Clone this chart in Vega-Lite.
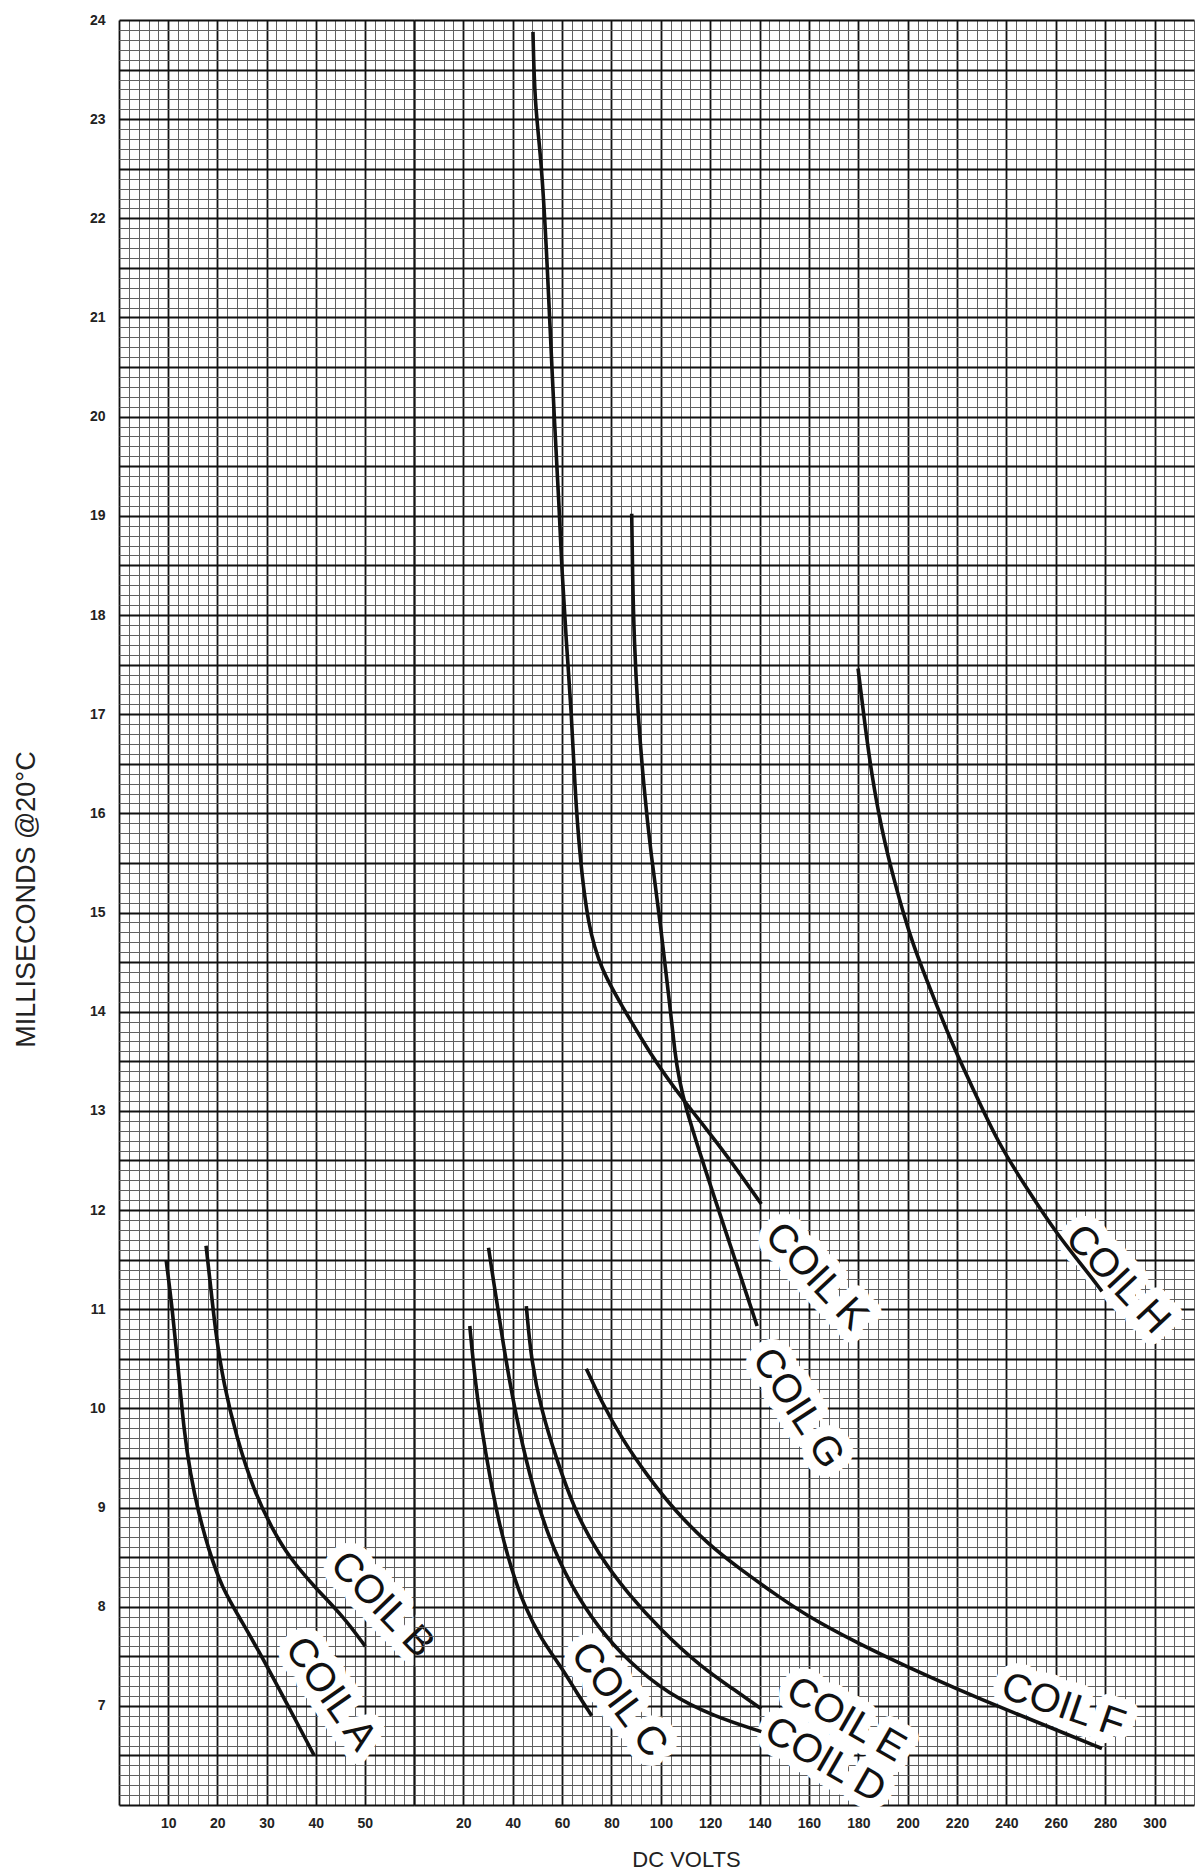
{
  "$schema": "https://vega.github.io/schema/vega-lite/v6.json",
  "background": "white",
  "padding": {"left": 12, "top": 13, "right": 3, "bottom": 0},
  "config": {
    "view": {"stroke": null},
    "font": "Liberation Sans",
    "axis": {
      "ticks": false,
      "domain": false,
      "labelOverlap": false,
      "labelFlush": false,
      "labelFont": "Liberation Sans",
      "labelFontSize": 14,
      "labelFontWeight": "bold",
      "labelColor": "#222",
      "titleFont": "Liberation Sans",
      "titleFontWeight": "normal",
      "titleColor": "#222",
      "gridOpacity": 1
    }
  },
  "datasets": {
    "curves": [
      {"coil": "COIL A", "panel": "left", "volts": 9.6, "ms": 11.49},
      {"coil": "COIL A", "panel": "left", "volts": 10.8, "ms": 11.02},
      {"coil": "COIL A", "panel": "left", "volts": 12.1, "ms": 10.38},
      {"coil": "COIL A", "panel": "left", "volts": 13.2, "ms": 9.78},
      {"coil": "COIL A", "panel": "left", "volts": 14.5, "ms": 9.34},
      {"coil": "COIL A", "panel": "left", "volts": 16.2, "ms": 8.94},
      {"coil": "COIL A", "panel": "left", "volts": 18.2, "ms": 8.58},
      {"coil": "COIL A", "panel": "left", "volts": 20.9, "ms": 8.19},
      {"coil": "COIL A", "panel": "left", "volts": 25.0, "ms": 7.85},
      {"coil": "COIL A", "panel": "left", "volts": 29.7, "ms": 7.44},
      {"coil": "COIL A", "panel": "left", "volts": 34.6, "ms": 6.98},
      {"coil": "COIL A", "panel": "left", "volts": 39.7, "ms": 6.5},
      {"coil": "COIL B", "panel": "left", "volts": 17.7, "ms": 11.64},
      {"coil": "COIL B", "panel": "left", "volts": 18.6, "ms": 11.25},
      {"coil": "COIL B", "panel": "left", "volts": 19.6, "ms": 10.78},
      {"coil": "COIL B", "panel": "left", "volts": 21.3, "ms": 10.24},
      {"coil": "COIL B", "panel": "left", "volts": 23.9, "ms": 9.71},
      {"coil": "COIL B", "panel": "left", "volts": 27.4, "ms": 9.17},
      {"coil": "COIL B", "panel": "left", "volts": 31.3, "ms": 8.77},
      {"coil": "COIL B", "panel": "left", "volts": 34.6, "ms": 8.5},
      {"coil": "COIL B", "panel": "left", "volts": 39.9, "ms": 8.19},
      {"coil": "COIL B", "panel": "left", "volts": 45.3, "ms": 7.92},
      {"coil": "COIL B", "panel": "left", "volts": 50.1, "ms": 7.6},
      {"coil": "COIL C", "panel": "right", "volts": 22.6, "ms": 10.83},
      {"coil": "COIL C", "panel": "right", "volts": 24.6, "ms": 10.31},
      {"coil": "COIL C", "panel": "right", "volts": 27.3, "ms": 9.81},
      {"coil": "COIL C", "panel": "right", "volts": 30.7, "ms": 9.31},
      {"coil": "COIL C", "panel": "right", "volts": 34.7, "ms": 8.81},
      {"coil": "COIL C", "panel": "right", "volts": 39.5, "ms": 8.37},
      {"coil": "COIL C", "panel": "right", "volts": 44.8, "ms": 8.0},
      {"coil": "COIL C", "panel": "right", "volts": 51.6, "ms": 7.67},
      {"coil": "COIL C", "panel": "right", "volts": 59.7, "ms": 7.39},
      {"coil": "COIL C", "panel": "right", "volts": 66.0, "ms": 7.13},
      {"coil": "COIL C", "panel": "right", "volts": 72.0, "ms": 6.9},
      {"coil": "COIL D", "panel": "right", "volts": 30.2, "ms": 11.62},
      {"coil": "COIL D", "panel": "right", "volts": 32.0, "ms": 11.32},
      {"coil": "COIL D", "panel": "right", "volts": 36.1, "ms": 10.65},
      {"coil": "COIL D", "panel": "right", "volts": 40.8, "ms": 9.98},
      {"coil": "COIL D", "panel": "right", "volts": 46.9, "ms": 9.31},
      {"coil": "COIL D", "panel": "right", "volts": 54.3, "ms": 8.7},
      {"coil": "COIL D", "panel": "right", "volts": 63.8, "ms": 8.2},
      {"coil": "COIL D", "panel": "right", "volts": 74.6, "ms": 7.79},
      {"coil": "COIL D", "panel": "right", "volts": 86.7, "ms": 7.45},
      {"coil": "COIL D", "panel": "right", "volts": 102.9, "ms": 7.12},
      {"coil": "COIL D", "panel": "right", "volts": 121.8, "ms": 6.89},
      {"coil": "COIL D", "panel": "right", "volts": 140.7, "ms": 6.74},
      {"coil": "COIL E", "panel": "right", "volts": 45.5, "ms": 11.03},
      {"coil": "COIL E", "panel": "right", "volts": 47.5, "ms": 10.48},
      {"coil": "COIL E", "panel": "right", "volts": 51.6, "ms": 9.98},
      {"coil": "COIL E", "panel": "right", "volts": 57.7, "ms": 9.49},
      {"coil": "COIL E", "panel": "right", "volts": 65.1, "ms": 8.97},
      {"coil": "COIL E", "panel": "right", "volts": 74.6, "ms": 8.53},
      {"coil": "COIL E", "panel": "right", "volts": 86.7, "ms": 8.13},
      {"coil": "COIL E", "panel": "right", "volts": 100.2, "ms": 7.76},
      {"coil": "COIL E", "panel": "right", "volts": 116.4, "ms": 7.39},
      {"coil": "COIL E", "panel": "right", "volts": 129.9, "ms": 7.16},
      {"coil": "COIL E", "panel": "right", "volts": 140.7, "ms": 6.97},
      {"coil": "COIL F", "panel": "right", "volts": 69.8, "ms": 10.4},
      {"coil": "COIL F", "panel": "right", "volts": 75.9, "ms": 10.07},
      {"coil": "COIL F", "panel": "right", "volts": 84.0, "ms": 9.7},
      {"coil": "COIL F", "panel": "right", "volts": 94.8, "ms": 9.31},
      {"coil": "COIL F", "panel": "right", "volts": 105.6, "ms": 8.97},
      {"coil": "COIL F", "panel": "right", "volts": 119.1, "ms": 8.63},
      {"coil": "COIL F", "panel": "right", "volts": 132.6, "ms": 8.37},
      {"coil": "COIL F", "panel": "right", "volts": 146.1, "ms": 8.13},
      {"coil": "COIL F", "panel": "right", "volts": 159.6, "ms": 7.9},
      {"coil": "COIL F", "panel": "right", "volts": 179.9, "ms": 7.63},
      {"coil": "COIL F", "panel": "right", "volts": 200.1, "ms": 7.39},
      {"coil": "COIL F", "panel": "right", "volts": 220.0, "ms": 7.17},
      {"coil": "COIL F", "panel": "right", "volts": 240.0, "ms": 6.96},
      {"coil": "COIL F", "panel": "right", "volts": 260.0, "ms": 6.76},
      {"coil": "COIL F", "panel": "right", "volts": 278.7, "ms": 6.57},
      {"coil": "COIL K", "panel": "right", "volts": 48.2, "ms": 23.88},
      {"coil": "COIL K", "panel": "right", "volts": 48.9, "ms": 23.16},
      {"coil": "COIL K", "panel": "right", "volts": 51.6, "ms": 22.59},
      {"coil": "COIL K", "panel": "right", "volts": 53.6, "ms": 21.72},
      {"coil": "COIL K", "panel": "right", "volts": 55.0, "ms": 20.97},
      {"coil": "COIL K", "panel": "right", "volts": 57.0, "ms": 19.89},
      {"coil": "COIL K", "panel": "right", "volts": 58.8, "ms": 19.1},
      {"coil": "COIL K", "panel": "right", "volts": 59.9, "ms": 18.45},
      {"coil": "COIL K", "panel": "right", "volts": 61.7, "ms": 17.73},
      {"coil": "COIL K", "panel": "right", "volts": 63.8, "ms": 17.01},
      {"coil": "COIL K", "panel": "right", "volts": 65.1, "ms": 16.29},
      {"coil": "COIL K", "panel": "right", "volts": 67.1, "ms": 15.58},
      {"coil": "COIL K", "panel": "right", "volts": 70.5, "ms": 14.86},
      {"coil": "COIL K", "panel": "right", "volts": 75.9, "ms": 14.42},
      {"coil": "COIL K", "panel": "right", "volts": 84.0, "ms": 14.07},
      {"coil": "COIL K", "panel": "right", "volts": 95.5, "ms": 13.58},
      {"coil": "COIL K", "panel": "right", "volts": 108.3, "ms": 13.13},
      {"coil": "COIL K", "panel": "right", "volts": 124.5, "ms": 12.63},
      {"coil": "COIL K", "panel": "right", "volts": 140.7, "ms": 12.06},
      {"coil": "COIL G", "panel": "right", "volts": 88.2, "ms": 19.02},
      {"coil": "COIL G", "panel": "right", "volts": 88.5, "ms": 18.45},
      {"coil": "COIL G", "panel": "right", "volts": 89.2, "ms": 17.73},
      {"coil": "COIL G", "panel": "right", "volts": 90.7, "ms": 17.01},
      {"coil": "COIL G", "panel": "right", "volts": 93.0, "ms": 16.29},
      {"coil": "COIL G", "panel": "right", "volts": 96.0, "ms": 15.58},
      {"coil": "COIL G", "panel": "right", "volts": 100.0, "ms": 14.86},
      {"coil": "COIL G", "panel": "right", "volts": 103.3, "ms": 14.14},
      {"coil": "COIL G", "panel": "right", "volts": 105.6, "ms": 13.6},
      {"coil": "COIL G", "panel": "right", "volts": 108.3, "ms": 13.13},
      {"coil": "COIL G", "panel": "right", "volts": 123.8, "ms": 11.97},
      {"coil": "COIL G", "panel": "right", "volts": 139.0, "ms": 10.83},
      {"coil": "COIL H", "panel": "right", "volts": 179.9, "ms": 17.46},
      {"coil": "COIL H", "panel": "right", "volts": 182.6, "ms": 16.91},
      {"coil": "COIL H", "panel": "right", "volts": 185.3, "ms": 16.41},
      {"coil": "COIL H", "panel": "right", "volts": 189.3, "ms": 15.85},
      {"coil": "COIL H", "panel": "right", "volts": 194.7, "ms": 15.3},
      {"coil": "COIL H", "panel": "right", "volts": 201.5, "ms": 14.71},
      {"coil": "COIL H", "panel": "right", "volts": 209.6, "ms": 14.2},
      {"coil": "COIL H", "panel": "right", "volts": 217.7, "ms": 13.69},
      {"coil": "COIL H", "panel": "right", "volts": 227.1, "ms": 13.19},
      {"coil": "COIL H", "panel": "right", "volts": 236.6, "ms": 12.68},
      {"coil": "COIL H", "panel": "right", "volts": 247.4, "ms": 12.25},
      {"coil": "COIL H", "panel": "right", "volts": 260.9, "ms": 11.74},
      {"coil": "COIL H", "panel": "right", "volts": 271.7, "ms": 11.41},
      {"coil": "COIL H", "panel": "right", "volts": 278.7, "ms": 11.18}
    ],
    "labels": [
      {"coil": "COIL A", "panel": "left", "volts": 43.0, "ms": 7.12},
      {"coil": "COIL B", "panel": "left", "volts": 53.5, "ms": 8.02},
      {"coil": "COIL C", "panel": "right", "volts": 83.0, "ms": 7.06},
      {"coil": "COIL D", "panel": "right", "volts": 166.5, "ms": 6.45},
      {"coil": "COIL E", "panel": "right", "volts": 175.0, "ms": 6.86},
      {"coil": "COIL F", "panel": "right", "volts": 263.0, "ms": 7.0},
      {"coil": "COIL G", "panel": "right", "volts": 155.5, "ms": 10.0},
      {"coil": "COIL K", "panel": "right", "volts": 163.0, "ms": 11.33},
      {"coil": "COIL H", "panel": "right", "volts": 285.0, "ms": 11.3}
    ]
  },
  "spacing": 0,
  "bounds": "flush",
  "hconcat": [
    {
      "width": 295,
      "height": 1785,
      "encoding": {
        "x": {
          "field": "volts",
          "type": "quantitative",
          "scale": {"domain": [0, 60], "nice": false, "zero": false},
          "axis": {
            "title": null,
            "values": [0,2,4,6,8,10,12,14,16,18,20,22,24,26,28,30,32,34,36,38,40,42,44,46,48,50,52,54,56,58,60],
            "grid": true,
            "gridColor": {"condition": {"test": "datum.value % 10 === 0", "value": "#111111"}, "value": "#606060"},
            "gridWidth": {"condition": {"test": "datum.value % 10 === 0", "value": 1.8}, "value": 1.0},
            "labelExpr": "datum.value % 10 === 0 && datum.value > 0 && datum.value < 60 ? datum.value : ''",
            "labelPadding": 11
          }
        },
        "y": {
          "field": "ms",
          "type": "quantitative",
          "scale": {"domain": [6, 24], "nice": false, "zero": false},
          "axis": {
            "title": "MILLISECONDS @20°C",
            "titleFontSize": 27,
            "titleAngle": -90,
            "titleX": -93,
            "titleY": 879,
            "titleAlign": "center",
            "titleBaseline": "middle",
            "tickCount": 180,
            "grid": true,
            "gridColor": {"condition": {"test": "round(datum.value * 10) % 5 === 0", "value": "#111111"}, "value": "#606060"},
            "gridWidth": {"condition": {"test": "round(datum.value * 10) % 5 === 0", "value": 1.8}, "value": 1.0},
            "labelExpr": "round(datum.value * 10) % 10 === 0 && datum.value > 6.5 ? round(datum.value) : ''",
            "labelPadding": 14
          }
        }
      },
      "layer": [
        {
          "data": {"name": "labels"},
          "transform": [{"filter": "datum.coil === 'COIL A'"}],
          "mark": {"type": "text", "angle": 55, "fontSize": 40, "font": "Liberation Sans", "align": "center", "baseline": "middle", "fill": "white", "stroke": "white", "strokeWidth": 22, "strokeJoin": "round"},
          "encoding": {"text": {"field": "coil"}}
        },
        {
          "data": {"name": "labels"},
          "transform": [{"filter": "datum.coil === 'COIL B'"}],
          "mark": {"type": "text", "angle": 46, "fontSize": 40, "font": "Liberation Sans", "align": "center", "baseline": "middle", "fill": "white", "stroke": "white", "strokeWidth": 22, "strokeJoin": "round"},
          "encoding": {"text": {"field": "coil"}}
        },
        {
          "data": {"name": "curves"},
          "transform": [{"filter": "datum.panel === 'left'"}],
          "mark": {"type": "line", "color": "#111", "strokeWidth": 3.6, "interpolate": "basis"},
          "encoding": {"detail": {"field": "coil"}, "order": {"field": "volts", "type": "quantitative"}}
        },
        {
          "data": {"name": "labels"},
          "transform": [{"filter": "datum.coil === 'COIL A'"}],
          "mark": {"type": "text", "angle": 55, "fontSize": 40, "font": "Liberation Sans", "align": "center", "baseline": "middle", "fill": "#111"},
          "encoding": {"text": {"field": "coil"}}
        },
        {
          "data": {"name": "labels"},
          "transform": [{"filter": "datum.coil === 'COIL B'"}],
          "mark": {"type": "text", "angle": 46, "fontSize": 40, "font": "Liberation Sans", "align": "center", "baseline": "middle", "fill": "#111"},
          "encoding": {"text": {"field": "coil"}}
        }
      ]
    },
    {
      "width": 780,
      "height": 1785,
      "encoding": {
        "x": {
          "field": "volts",
          "type": "quantitative",
          "scale": {"domain": [0, 316], "nice": false, "zero": false},
          "axis": {
            "title": "DC VOLTS",
            "titleFontSize": 22,
            "titleX": 272,
            "titleY": 54,
            "titleAlign": "center",
            "titleBaseline": "middle",
            "values": [0,4,8,12,16,20,24,28,32,36,40,44,48,52,56,60,64,68,72,76,80,84,88,92,96,100,104,108,112,116,120,124,128,132,136,140,144,148,152,156,160,164,168,172,176,180,184,188,192,196,200,204,208,212,216,220,224,228,232,236,240,244,248,252,256,260,264,268,272,276,280,284,288,292,296,300,304,308,312,316],
            "grid": true,
            "gridColor": {"condition": {"test": "datum.value % 20 === 0", "value": "#111111"}, "value": "#606060"},
            "gridWidth": {"condition": {"test": "datum.value % 20 === 0", "value": 1.8}, "value": 1.0},
            "labelExpr": "datum.value % 20 === 0 && datum.value > 0 ? datum.value : ''",
            "labelPadding": 11
          }
        },
        "y": {
          "field": "ms",
          "type": "quantitative",
          "scale": {"domain": [6, 24], "nice": false, "zero": false},
          "axis": {
            "title": null,
            "labels": false,
            "tickCount": 180,
            "grid": true,
            "gridColor": {"condition": {"test": "round(datum.value * 10) % 5 === 0", "value": "#111111"}, "value": "#606060"},
            "gridWidth": {"condition": {"test": "round(datum.value * 10) % 5 === 0", "value": 1.8}, "value": 1.0}
          }
        }
      },
      "layer": [
        {
          "data": {"values": [{}]},
          "mark": {"type": "rule", "color": "#111", "strokeWidth": 3},
          "encoding": {"x": {"datum": 0}, "y": {"datum": 24}, "y2": {"datum": 5.9}}
        },
        {
          "data": {"name": "labels"},
          "transform": [{"filter": "datum.coil === 'COIL C'"}],
          "mark": {"type": "text", "angle": 53, "fontSize": 40, "font": "Liberation Sans", "align": "center", "baseline": "middle", "fill": "white", "stroke": "white", "strokeWidth": 22, "strokeJoin": "round"},
          "encoding": {"text": {"field": "coil"}}
        },
        {
          "data": {"name": "labels"},
          "transform": [{"filter": "datum.coil === 'COIL D' || datum.coil === 'COIL E'"}],
          "mark": {"type": "text", "angle": 30, "fontSize": 40, "font": "Liberation Sans", "align": "center", "baseline": "middle", "fill": "white", "stroke": "white", "strokeWidth": 22, "strokeJoin": "round"},
          "encoding": {"text": {"field": "coil"}}
        },
        {
          "data": {"name": "labels"},
          "transform": [{"filter": "datum.coil === 'COIL F'"}],
          "mark": {"type": "text", "angle": 19, "fontSize": 40, "font": "Liberation Sans", "align": "center", "baseline": "middle", "fill": "white", "stroke": "white", "strokeWidth": 22, "strokeJoin": "round"},
          "encoding": {"text": {"field": "coil"}}
        },
        {
          "data": {"name": "labels"},
          "transform": [{"filter": "datum.coil === 'COIL G'"}],
          "mark": {"type": "text", "angle": 57, "fontSize": 40, "font": "Liberation Sans", "align": "center", "baseline": "middle", "fill": "white", "stroke": "white", "strokeWidth": 22, "strokeJoin": "round"},
          "encoding": {"text": {"field": "coil"}}
        },
        {
          "data": {"name": "labels"},
          "transform": [{"filter": "datum.coil === 'COIL K' || datum.coil === 'COIL H'"}],
          "mark": {"type": "text", "angle": 47, "fontSize": 40, "font": "Liberation Sans", "align": "center", "baseline": "middle", "fill": "white", "stroke": "white", "strokeWidth": 22, "strokeJoin": "round"},
          "encoding": {"text": {"field": "coil"}}
        },
        {
          "data": {"name": "curves"},
          "transform": [{"filter": "datum.panel === 'right'"}],
          "mark": {"type": "line", "color": "#111", "strokeWidth": 3.6, "interpolate": "basis"},
          "encoding": {"detail": {"field": "coil"}, "order": {"field": "volts", "type": "quantitative"}}
        },
        {
          "data": {"name": "labels"},
          "transform": [{"filter": "datum.coil === 'COIL C'"}],
          "mark": {"type": "text", "angle": 53, "fontSize": 40, "font": "Liberation Sans", "align": "center", "baseline": "middle", "fill": "#111"},
          "encoding": {"text": {"field": "coil"}}
        },
        {
          "data": {"name": "labels"},
          "transform": [{"filter": "datum.coil === 'COIL D' || datum.coil === 'COIL E'"}],
          "mark": {"type": "text", "angle": 30, "fontSize": 40, "font": "Liberation Sans", "align": "center", "baseline": "middle", "fill": "#111"},
          "encoding": {"text": {"field": "coil"}}
        },
        {
          "data": {"name": "labels"},
          "transform": [{"filter": "datum.coil === 'COIL F'"}],
          "mark": {"type": "text", "angle": 19, "fontSize": 40, "font": "Liberation Sans", "align": "center", "baseline": "middle", "fill": "#111"},
          "encoding": {"text": {"field": "coil"}}
        },
        {
          "data": {"name": "labels"},
          "transform": [{"filter": "datum.coil === 'COIL G'"}],
          "mark": {"type": "text", "angle": 57, "fontSize": 40, "font": "Liberation Sans", "align": "center", "baseline": "middle", "fill": "#111"},
          "encoding": {"text": {"field": "coil"}}
        },
        {
          "data": {"name": "labels"},
          "transform": [{"filter": "datum.coil === 'COIL K' || datum.coil === 'COIL H'"}],
          "mark": {"type": "text", "angle": 47, "fontSize": 40, "font": "Liberation Sans", "align": "center", "baseline": "middle", "fill": "#111"},
          "encoding": {"text": {"field": "coil"}}
        }
      ]
    }
  ]
}
